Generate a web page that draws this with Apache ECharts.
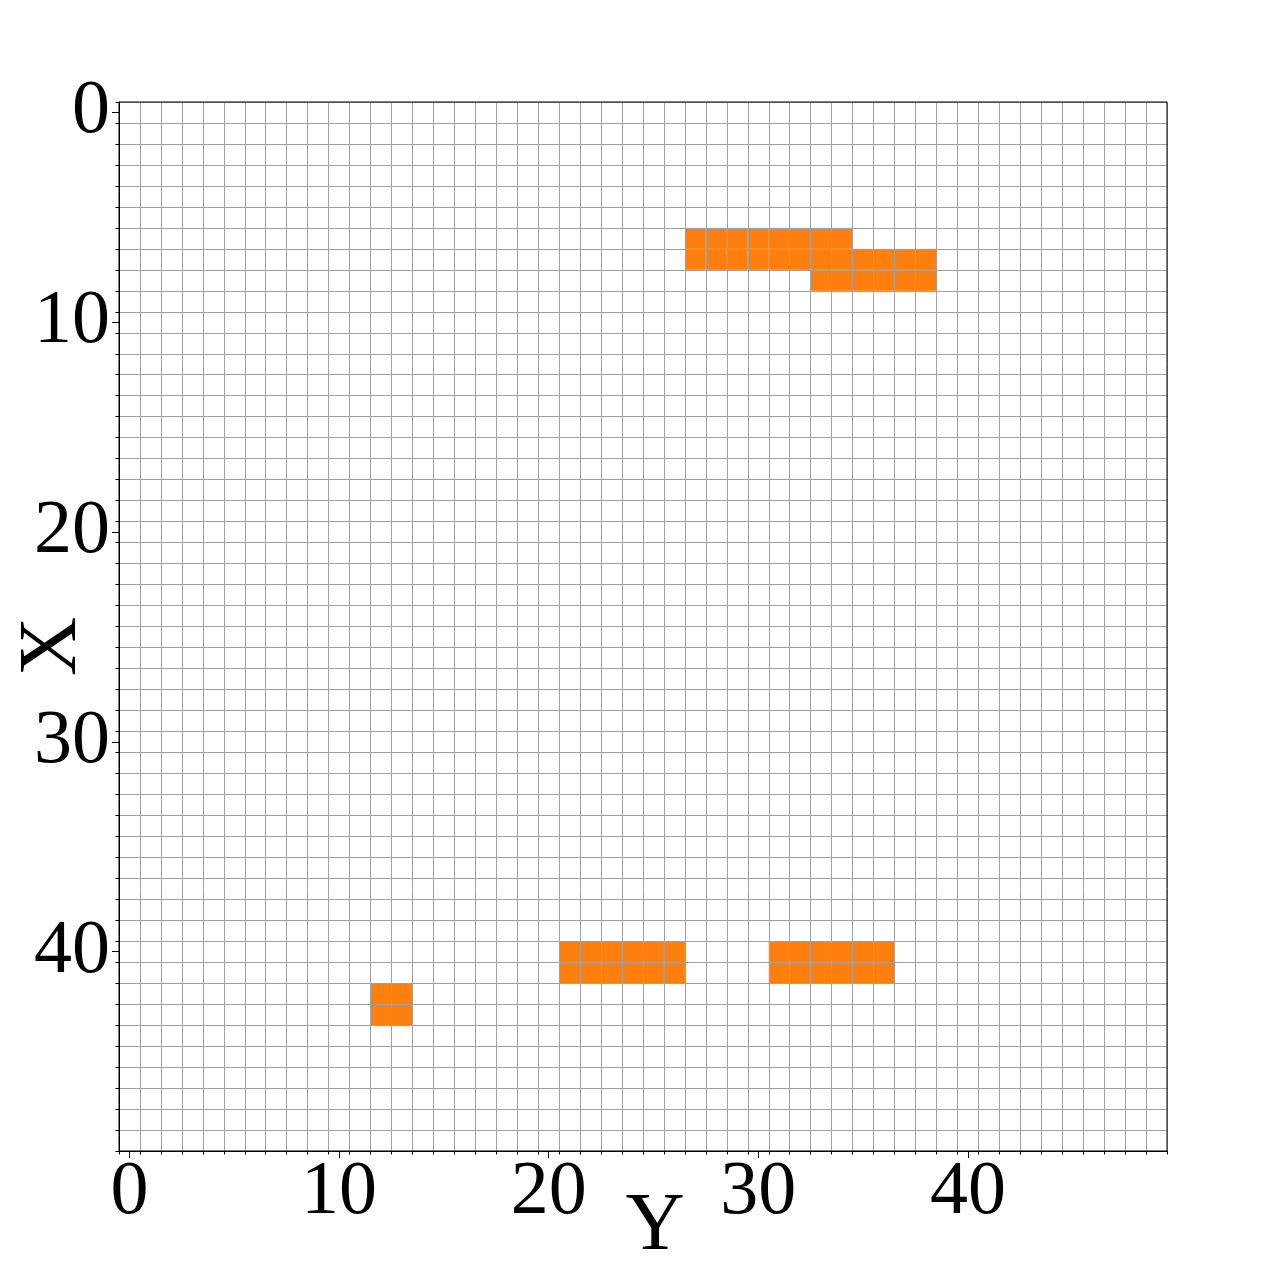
<!DOCTYPE html>
<html>
<head>
<meta charset="utf-8">
<script src="https://cdn.jsdelivr.net/npm/echarts@6/dist/echarts.min.js"></script>
<style>html,body{margin:0;padding:0;background:#fff;}#c{width:1276px;height:1270px;}</style>
</head>
<body>
<div id="c"></div>
<script>
// Filled cells as horizontal runs: row index, first column, last column
const runRows  = [6, 7, 8, 40, 40, 41, 41, 42, 43];
const runStart = [27, 27, 33, 21, 31, 21, 31, 12, 12];
const runEnd   = [34, 38, 38, 26, 36, 26, 36, 13, 13];
const majorTicks = [0, 10, 20, 30, 40];
const xName = 'Y';
const yName = 'X';

const cells = [];
for (let i = 0; i < runRows.length; i++) {
  for (let c = runStart[i]; c <= runEnd[i]; c++) cells.push([c, runRows[i]]);
}

const FONT = '"Liberation Serif", "Times New Roman", serif';
const gridColor = '#a0a0a0';

function minorAxis(pos, inverse) {
  return {
    type: 'value', position: pos, min: -0.5, max: 49.5, interval: 1, inverse: inverse,
    axisLine: {show: true, onZero: false, lineStyle: {color: '#000', width: 1}},
    axisTick: {show: true, length: 3.5, lineStyle: {color: '#000', width: 1}},
    axisLabel: {show: false},
    splitLine: {show: true, lineStyle: {color: gridColor, width: 1}}
  };
}
function majorAxis(pos, inverse, name, isY) {
  return {
    type: 'value', position: pos, min: -0.5, max: 49.5, inverse: inverse,
    name: name, nameLocation: 'middle', nameGap: isY ? 25 : 35,
    nameMoveOverlap: false,
    nameRotate: isY ? 90 : 0,
    nameTextStyle: {fontFamily: FONT, fontSize: 82, color: '#000',
      padding: isY ? [0, 40, 0, 0] : [0, 0, 0, 24]},
    axisLine: {show: false, onZero: false},
    axisTick: {show: true, length: 7, customValues: majorTicks, lineStyle: {color: '#000', width: 1}},
    axisLabel: {show: true, customValues: majorTicks, fontFamily: FONT, fontSize: 76, color: '#000',
      margin: isY ? 9 : 4, padding: isY ? [16, 0, 0, 0] : 0},
    splitLine: {show: false}
  };
}

const chart = echarts.init(document.getElementById('c'), null, {renderer: 'canvas'});
chart.setOption({
  animation: false,
  backgroundColor: '#fff',
  grid: {left: 119, top: 102, right: 109, bottom: 119, containLabel: false, outerBoundsMode: 'none',
    z: 5, show: true, borderColor: '#000', borderWidth: 1, backgroundColor: 'transparent'},
  xAxis: [minorAxis('bottom', false), majorAxis('bottom', false, xName, false)],
  yAxis: [minorAxis('left', true), majorAxis('left', true, yName, true)],
  series: [{
    type: 'custom',
    z: -1,
    xAxisIndex: 0, yAxisIndex: 0,
    data: cells,
    renderItem: function (params, api) {
      const x = api.value(0), y = api.value(1);
      const p0 = api.coord([x - 0.5, y - 0.5]);
      const p1 = api.coord([x + 0.5, y + 0.5]);
      return {
        type: 'rect',
        shape: {x: Math.min(p0[0], p1[0]), y: Math.min(p0[1], p1[1]), width: Math.abs(p1[0] - p0[0]), height: Math.abs(p1[1] - p0[1])},
        style: {fill: '#ff7f0e', stroke: null}
      };
    }
  }]
});
</script>
</body>
</html>
